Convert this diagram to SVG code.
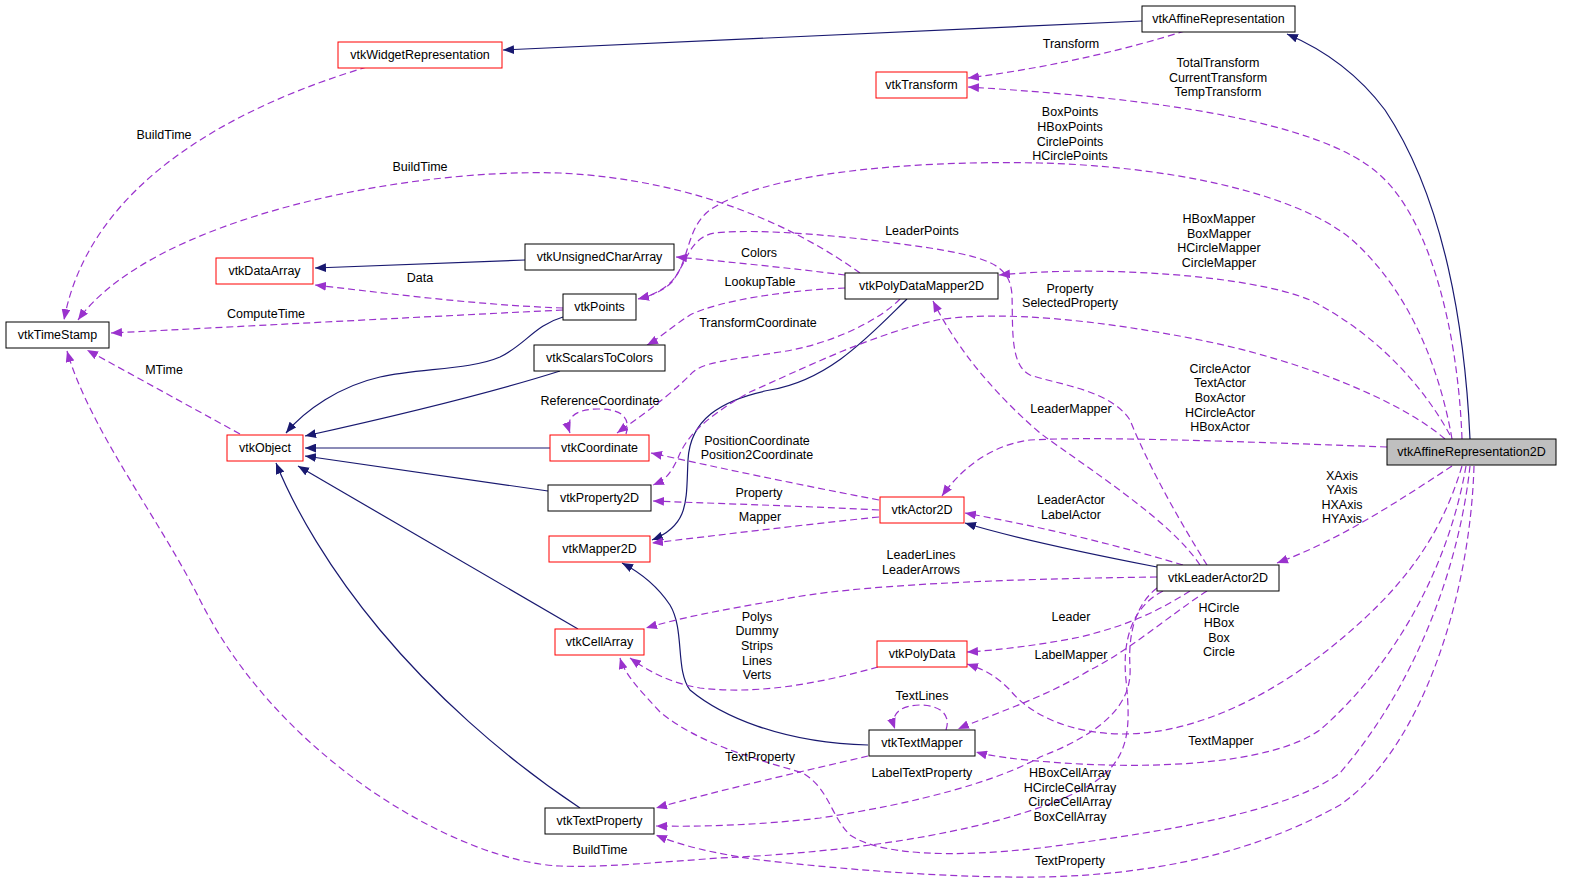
<svg xmlns="http://www.w3.org/2000/svg" width="1571" height="885" viewBox="0 0 1571 885">
<style>
text{font-family:"Liberation Sans",Arial,sans-serif;font-size:12.5px;fill:#000;text-anchor:middle}
.n rect{fill:#fff;stroke:#000;stroke-width:1}
.n.r rect{stroke:#ff0000}
.n.g rect{fill:#bfbfbf}
.inh{fill:none;stroke:#191970;stroke-width:1.2;marker-end:url(#an)}
.use{fill:none;stroke:#9a32cd;stroke-width:1.2;stroke-dasharray:7,4;marker-end:url(#ap)}
</style>
<defs>
<marker id="an" viewBox="0 0 10 8" refX="10" refY="4" markerWidth="11" markerHeight="9" orient="auto" markerUnits="userSpaceOnUse"><path d="M0,0 L10,4 L0,8 z" fill="#191970"/></marker>
<marker id="ap" viewBox="0 0 10 8" refX="10" refY="4" markerWidth="11" markerHeight="9" orient="auto" markerUnits="userSpaceOnUse"><path d="M0,0 L10,4 L0,8 z" fill="#9a32cd"/></marker>
</defs>
<rect width="1571" height="885" fill="#fff"/>
<g id="connectors">
<path class="inh" d="M1142,21 C900,32 700,42 503,50"/>
<path class="inh" d="M1470,439 C1465,330 1445,200 1385,110 C1355,70 1320,48 1287,34"/>
<path class="inh" d="M525,260 L315,268"/>
<path class="inh" d="M563,317 C535,325 525,345 500,357 C470,370 420,368 380,377 C340,386 305,410 286,433"/>
<path class="inh" d="M560,371 C500,390 400,415 305,436"/>
<path class="inh" d="M550,448 L305,448"/>
<path class="inh" d="M548,491 L305,456"/>
<path class="inh" d="M578,629 L298,466"/>
<path class="inh" d="M580,808 C500,755 430,690 380,630 C330,570 295,510 276,463"/>
<path class="inh" d="M907,299 C870,335 830,380 770,390 C720,400 690,420 688,460 C686,500 690,525 652,540"/>
<path class="inh" d="M868,745 C780,743 720,715 690,690 C675,670 685,630 670,605 C660,590 645,575 622,563"/>
<path class="inh" d="M1157,567 C1080,552 1010,537 965,523"/>
<path class="use" d="M367,67 C240,105 90,180 64,320"/>
<path class="use" d="M860,273 C800,230 700,180 560,173 C400,168 150,220 78,320"/>
<path class="use" d="M563,310 C400,318 250,326 111,333"/>
<path class="use" d="M563,308 C480,305 400,295 315,285"/>
<path class="use" d="M240,434 L87,350"/>
<path class="use" d="M1163,591 C1132,607 1122,640 1126,680 C1131,730 1130,760 1090,785 C1030,820 900,850 720,858 C660,862 600,868 560,866 C460,862 280,760 200,600 C160,520 90,430 67,351"/>
<path class="use" d="M1185,31 C1130,48 1060,66 968,78"/>
<path class="use" d="M1462,439 C1458,330 1430,220 1380,175 C1320,120 1150,98 968,87"/>
<path class="use" d="M1452,439 C1440,370 1410,290 1350,238 C1290,190 1160,166 1040,163 C900,160 760,175 710,210 C685,228 690,265 670,283 C660,292 650,296 638,299"/>
<path class="use" d="M1207,565 C1185,530 1150,470 1130,420 C1110,390 1060,385 1030,375 C1010,365 1013,330 1012,295 C1010,265 990,258 930,248 C850,236 760,228 715,233 C690,237 688,260 672,282 C662,292 650,296 638,299"/>
<path class="use" d="M1450,435 C1420,380 1370,330 1310,300 C1250,275 1100,265 999,275"/>
<path class="use" d="M1445,439 C1400,400 1300,360 1200,340 C1100,320 1000,310 937,320 C870,335 800,370 750,392 C700,420 685,440 678,458 C670,475 665,480 653,485"/>
<path class="use" d="M1387,447 C1250,442 1100,436 1030,440 C990,445 960,470 942,496"/>
<path class="use" d="M845,275 C790,268 730,262 676,257"/>
<path class="use" d="M845,288 C790,290 720,300 690,315 C670,328 660,338 647,345"/>
<path class="use" d="M900,299 C880,320 830,345 780,352 C730,360 700,362 690,375 C665,400 635,420 617,433"/>
<path class="use" d="M626,434 C632,414 616,409 598,409 C580,409 564,415 570,433"/>
<path class="use" d="M879,500 C800,485 720,468 651,453"/>
<path class="use" d="M879,510 C800,506 730,504 653,501"/>
<path class="use" d="M879,517 C800,525 720,535 652,543"/>
<path class="use" d="M1200,565 C1170,520 1090,470 1040,433 C990,390 955,345 933,301"/>
<path class="use" d="M1183,565 C1100,540 1030,525 965,513"/>
<path class="use" d="M1157,577 C1000,579 850,585 780,600 C720,610 680,618 646,628"/>
<path class="use" d="M1190,591 C1160,610 1130,625 1080,637 C1040,645 1000,650 967,652"/>
<path class="use" d="M1207,591 C1170,615 1130,650 1090,670 C1040,700 990,715 958,729"/>
<path class="use" d="M946,730 C952,712 936,705 920,705 C904,705 889,712 895,729"/>
<path class="use" d="M868,756 C800,772 720,790 656,808"/>
<path class="use" d="M878,667 C820,683 760,695 700,688 C670,683 650,672 630,658"/>
<path class="use" d="M1157,588 C1135,605 1128,635 1130,667 C1132,700 1110,730 1040,757 C1000,780 920,803 820,818 C760,825 700,827 656,826"/>
<path class="use" d="M1452,466 C1400,500 1340,540 1277,563"/>
<path class="use" d="M1462,466 C1440,540 1400,590 1340,640 C1280,690 1200,735 1120,734 C1070,733 1030,715 1010,690 C995,675 985,670 967,664"/>
<path class="use" d="M1466,466 C1450,560 1400,660 1320,730 C1270,765 1150,770 1050,762 C1020,760 990,756 976,752"/>
<path class="use" d="M1470,466 C1460,560 1420,680 1340,773 C1290,810 1180,830 1040,848 C950,858 880,855 850,835 C830,815 830,790 803,773 C760,760 700,745 660,712 C640,690 625,675 620,658"/>
<path class="use" d="M1474,466 C1470,600 1420,750 1340,805 C1250,855 1150,875 1040,877 C950,878 850,870 760,860 C710,853 680,845 656,835"/>
</g>
<g id="labels">
<text x="1071" y="48">Transform</text>
<text x="1218" y="67">TotalTransform</text>
<text x="1218" y="82">CurrentTransform</text>
<text x="1218" y="96">TempTransform</text>
<text x="1070" y="116">BoxPoints</text>
<text x="1070" y="131">HBoxPoints</text>
<text x="1070" y="146">CirclePoints</text>
<text x="1070" y="160">HCirclePoints</text>
<text x="164" y="139">BuildTime</text>
<text x="420" y="171">BuildTime</text>
<text x="922" y="235">LeaderPoints</text>
<text x="1219" y="223">HBoxMapper</text>
<text x="1219" y="238">BoxMapper</text>
<text x="1219" y="252">HCircleMapper</text>
<text x="1219" y="267">CircleMapper</text>
<text x="759" y="257">Colors</text>
<text x="420" y="282">Data</text>
<text x="760" y="286">LookupTable</text>
<text x="1070" y="293">Property</text>
<text x="1070" y="307">SelectedProperty</text>
<text x="266" y="318">ComputeTime</text>
<text x="758" y="327">TransformCoordinate</text>
<text x="164" y="374">MTime</text>
<text x="1220" y="373">CircleActor</text>
<text x="1220" y="387">TextActor</text>
<text x="1220" y="402">BoxActor</text>
<text x="1220" y="417">HCircleActor</text>
<text x="1220" y="431">HBoxActor</text>
<text x="600" y="405">ReferenceCoordinate</text>
<text x="1071" y="413">LeaderMapper</text>
<text x="757" y="445">PositionCoordinate</text>
<text x="757" y="459">Position2Coordinate</text>
<text x="1342" y="480">XAxis</text>
<text x="1342" y="494">YAxis</text>
<text x="1342" y="509">HXAxis</text>
<text x="1342" y="523">HYAxis</text>
<text x="759" y="497">Property</text>
<text x="1071" y="504">LeaderActor</text>
<text x="1071" y="519">LabelActor</text>
<text x="760" y="521">Mapper</text>
<text x="921" y="559">LeaderLines</text>
<text x="921" y="574">LeaderArrows</text>
<text x="1219" y="612">HCircle</text>
<text x="1219" y="627">HBox</text>
<text x="1219" y="642">Box</text>
<text x="1219" y="656">Circle</text>
<text x="1071" y="621">Leader</text>
<text x="757" y="621">Polys</text>
<text x="757" y="635">Dummy</text>
<text x="757" y="650">Strips</text>
<text x="757" y="665">Lines</text>
<text x="757" y="679">Verts</text>
<text x="1071" y="659">LabelMapper</text>
<text x="922" y="700">TextLines</text>
<text x="1221" y="745">TextMapper</text>
<text x="760" y="761">TextProperty</text>
<text x="922" y="777">LabelTextProperty</text>
<text x="1070" y="777">HBoxCellArray</text>
<text x="1070" y="792">HCircleCellArray</text>
<text x="1070" y="806">CircleCellArray</text>
<text x="1070" y="821">BoxCellArray</text>
<text x="600" y="854">BuildTime</text>
<text x="1070" y="865">TextProperty</text>
</g>
<g id="vtkAffineRepresentation" class="n"><rect x="1142" y="6" width="153" height="26"/><text x="1218.5" y="23">vtkAffineRepresentation</text></g>
<g id="vtkWidgetRepresentation" class="n r"><rect x="338" y="42" width="164" height="26"/><text x="420" y="59">vtkWidgetRepresentation</text></g>
<g id="vtkTransform" class="n r"><rect x="876" y="72" width="91" height="26"/><text x="921.5" y="89">vtkTransform</text></g>
<g id="vtkDataArray" class="n r"><rect x="216" y="258" width="97" height="26"/><text x="264.5" y="275">vtkDataArray</text></g>
<g id="vtkUnsignedCharArray" class="n"><rect x="525" y="244" width="149" height="26"/><text x="599.5" y="261">vtkUnsignedCharArray</text></g>
<g id="vtkPolyDataMapper2D" class="n"><rect x="845" y="273" width="153" height="26"/><text x="921.5" y="290">vtkPolyDataMapper2D</text></g>
<g id="vtkPoints" class="n"><rect x="563" y="294" width="73" height="26"/><text x="599.5" y="311">vtkPoints</text></g>
<g id="vtkTimeStamp" class="n"><rect x="6" y="322" width="103" height="26"/><text x="57.5" y="339">vtkTimeStamp</text></g>
<g id="vtkScalarsToColors" class="n"><rect x="534" y="345" width="131" height="26"/><text x="599.5" y="362">vtkScalarsToColors</text></g>
<g id="vtkObject" class="n r"><rect x="227" y="435" width="76" height="26"/><text x="265" y="452">vtkObject</text></g>
<g id="vtkCoordinate" class="n r"><rect x="550" y="435" width="99" height="26"/><text x="599.5" y="452">vtkCoordinate</text></g>
<g id="vtkAffineRepresentation2D" class="n g"><rect x="1387" y="439" width="169" height="26"/><text x="1471.5" y="456">vtkAffineRepresentation2D</text></g>
<g id="vtkProperty2D" class="n"><rect x="548" y="485" width="103" height="26"/><text x="599.5" y="502">vtkProperty2D</text></g>
<g id="vtkActor2D" class="n r"><rect x="880" y="497" width="84" height="26"/><text x="922" y="514">vtkActor2D</text></g>
<g id="vtkMapper2D" class="n r"><rect x="549" y="536" width="101" height="26"/><text x="599.5" y="553">vtkMapper2D</text></g>
<g id="vtkLeaderActor2D" class="n"><rect x="1157" y="565" width="122" height="26"/><text x="1218" y="582">vtkLeaderActor2D</text></g>
<g id="vtkCellArray" class="n r"><rect x="555" y="629" width="89" height="26"/><text x="599.5" y="646">vtkCellArray</text></g>
<g id="vtkPolyData" class="n r"><rect x="877" y="641" width="90" height="26"/><text x="922" y="658">vtkPolyData</text></g>
<g id="vtkTextMapper" class="n"><rect x="869" y="730" width="106" height="26"/><text x="922" y="747">vtkTextMapper</text></g>
<g id="vtkTextProperty" class="n"><rect x="545" y="808" width="109" height="26"/><text x="599.5" y="825">vtkTextProperty</text></g>
</svg>
